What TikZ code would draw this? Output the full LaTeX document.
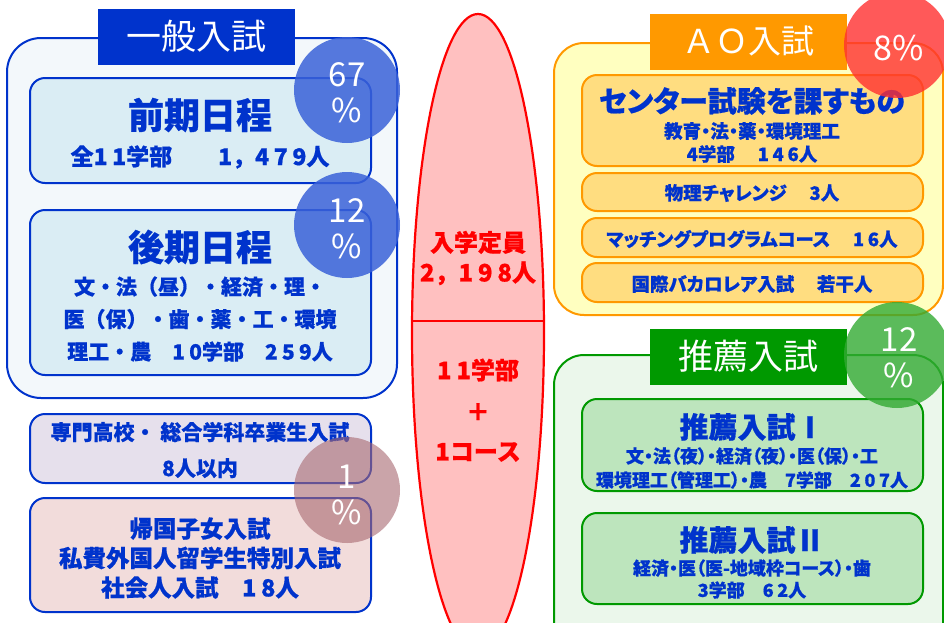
\documentclass[tikz,border=0pt]{standalone}
\usepackage{fontspec}
\setmainfont{Noto Sans CJK JP}[BoldFeatures={FakeBold=0.6}]
\newfontfamily\pf{Noto Sans CJK JP}[RawFeature=+palt, BoldFeatures={FakeBold=0.6}]
\newfontfamily\titlefont{Noto Sans CJK JP}
\usetikzlibrary{shapes.geometric}
\definecolor{tblue}{HTML}{0033CC}
\definecolor{lbg}{HTML}{F3F8FB}
\definecolor{lsub}{HTML}{DAEDF4}
\definecolor{lav}{HTML}{E6E0EC}
\definecolor{lpink}{HTML}{F2DCDB}
\definecolor{bcirc}{HTML}{3A62D8}
\definecolor{pcirc}{HTML}{A86870}
\definecolor{ellfill}{HTML}{FFC0C0}
\definecolor{aorange}{HTML}{FF9900}
\definecolor{aobg}{HTML}{FFFFC0}
\definecolor{aosub}{HTML}{FFDD80}
\definecolor{rcirc}{HTML}{FF3030}
\definecolor{ggreen}{HTML}{009900}
\definecolor{gbg}{HTML}{EBF7EB}
\definecolor{gsub}{HTML}{BDE5BD}
\definecolor{gcirc}{HTML}{33AA33}
\newcommand{\fs}[2]{\fontsize{#1}{#2}\selectfont}
\newcommand{\dg}[1]{{\addfontfeature{LetterSpace=20}#1}}
\tikzset{
  container/.style={line width=2pt, rounded corners=34pt},
  subbox/.style={line width=2pt, rounded corners=15pt},
  titlebox/.style={inner sep=0pt, minimum width=197pt, minimum height=56pt, text=white, font=\titlefont\fs{35}{40}},
  pct/.style={circle, minimum size=106pt, inner sep=0pt, fill opacity=0.85, text opacity=1},
  pcttext/.style={text=white, font=\titlefont\fs{33}{38}, align=center},
  btext/.style={text=tblue, font=\bfseries, align=center, inner sep=0pt},
  rtext/.style={text=red, font=\bfseries\fs{24}{30}, align=center, inner sep=0pt}
}
\begin{document}
\begin{tikzpicture}[x=1pt,y=-1pt]
\useasboundingbox (0,0) rectangle (944,622);
\fill[white] (0,0) rectangle (944,622);

% ---------- left: general exam ----------
\draw[container, draw=tblue, fill=lbg] (7,38) rectangle (397,398);
\draw[subbox, draw=tblue, fill=lsub] (30,78) rectangle (371,183);
\draw[subbox, draw=tblue, fill=lsub] (30,210) rectangle (371,375);
\draw[subbox, draw=tblue, fill=lav] (30,414) rectangle (371,483);
\draw[subbox, draw=tblue, fill=lpink] (30,498) rectangle (371,612);

\node[titlebox, fill=tblue] (t1) at (196.5,36.5) {一般入試};

\node[btext, font=\bfseries\fs{36}{40}] (zenki) at (200,115) {前期日程};
\node[btext, font=\bfseries\fs{23}{30}] (zenkin) at (200,157) {全\dg{11}学部　　\dg{1}，\dg{479}人};
\node[btext, font=\bfseries\fs{36}{40}] (kouki) at (200,247) {後期日程};
\node[btext, font=\bfseries\fs{21}{32.5}] (koukin) at (200,319) {文・法（昼）・経済・理・\\医（保）・歯・薬・工・環境\\理工・農　\dg{10}学部　\dg{259}人};
\node[btext, font=\bfseries\fs{21}{36}] (senmon) at (200,450) {専門高校・ 総合学科卒業生入試\\\dg{8}人以内};
\node[btext, font=\bfseries\fs{23.5}{29.5}] (kikoku) at (200,558) {帰国子女入試\\私費外国人留学生特別入試\\社会人入試　\dg{18}人};

\node[pct, fill=bcirc] (c67) at (347,90) {};
\node[pcttext] (c67t) at (347,93) {67\\[-2pt]\%};
\node[pct, fill=bcirc] (c12a) at (347,225) {};
\node[pcttext] (c12at) at (347,229) {12\\[-2pt]\%};
\node[pct, fill=pcirc, fill opacity=0.6] (c1) at (347,490) {};
\node[pcttext] (c1t) at (347,495) {1\\[-2pt]\%};

% ---------- centre ellipse ----------
\node[ellipse, draw=red, fill=ellfill, line width=2.2pt, minimum width=132pt, minimum height=638pt, inner sep=0pt] (ell) at (478,333) {};
\coordinate (dl) at (412.1,321);
\coordinate (dr) at (543.9,321);
\draw[red, line width=2.2pt] (dl) -- (dr);
\node[rtext] (teiin) at (478,258) {入学定員\\\dg{2}，\dg{198}人};
\node[rtext] (gakubu) at (478,370) {\dg{11}学部};
\node[rtext] (plus) at (478,412) {＋};
\node[rtext] (course) at (478,452) {\dg{1}コース};

% ---------- right top: AO ----------
\draw[container, rounded corners=30pt, draw=aorange, fill=aobg] (554,43) rectangle (943,315);
\draw[subbox, draw=aorange, fill=aosub] (582,75) rectangle (923,166);
\draw[subbox, draw=aorange, fill=aosub] (582,173) rectangle (923,211);
\draw[subbox, draw=aorange, fill=aosub] (582,218) rectangle (923,257);
\draw[subbox, draw=aorange, fill=aosub] (582,263) rectangle (923,302);
\node[titlebox, fill=aorange, font=\titlefont\fs{33}{40}] (t2) at (748.5,41.5) {ＡＯ入試};
\node[btext, font=\pf\bfseries\fs{29}{34}] (center) at (752,101) {センター試験を課すもの};
\node[btext, font=\pf\bfseries\fs{18.5}{23}] (centern) at (752,142.5) {教育・法・薬・環境理工\\\dg{4}学部　 \dg{146}人};
\node[btext, font=\pf\bfseries\fs{18.5}{23}] (butsuri) at (752,193) {物理チャレンジ　 \dg{3}人};
\node[btext, font=\pf\bfseries\fs{18.5}{23}] (match) at (752,239) {マッチングプログラムコース　 \dg{16}人};
\node[btext, font=\pf\bfseries\fs{18.5}{23}] (ib) at (752,284) {国際バカロレア入試　 若干人};
\node[pct, fill=rcirc, fill opacity=0.8] (c8) at (897,45) {};
\node[pcttext, font=\titlefont\fs{34}{38}] (c8t) at (899,48) {8\%};

% ---------- right bottom: recommendation ----------
\draw[container, rounded corners=30pt, draw=ggreen, fill=gbg] (554,355) rectangle (943,660);
\draw[subbox, draw=ggreen, fill=gsub] (582,399) rectangle (923,491);
\draw[subbox, draw=ggreen, fill=gsub] (582,513) rectangle (923,604);
\node[titlebox, fill=ggreen] (t3) at (748.5,356.5) {推薦入試};
\node[btext, font=\pf\bfseries\fs{29}{34}] (s1) at (752,427) {推薦入試Ⅰ};
\node[btext, font=\pf\bfseries\fs{18}{24}] (s1n) at (752,468) {文・法（夜）・経済（夜）・医（保）・工\\環境理工（管理工）・農　\dg{7}学部　\dg{207}人};
\node[btext, font=\pf\bfseries\fs{29}{34}] (s2) at (752,540) {推薦入試Ⅱ};
\node[btext, font=\pf\bfseries\fs{18}{22}] (s2n) at (752,579) {経済・医（医-地域枠コース）・歯\\\dg{3}学部　\dg{62}人};
\node[pct, fill=gcirc, fill opacity=0.8] (c12b) at (897,355) {};
\node[pcttext] (c12bt) at (899,358) {12\\[-2pt]\%};
\end{tikzpicture}
\end{document}
